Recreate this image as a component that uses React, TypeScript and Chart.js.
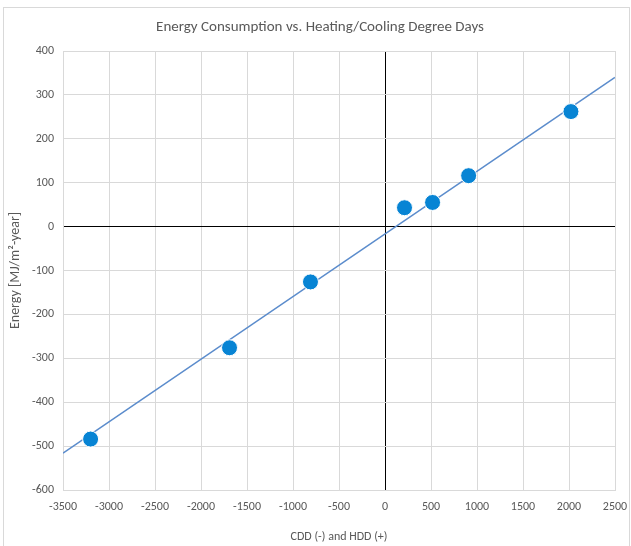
import React, { useEffect, useRef } from "react";
import { Chart, registerables } from "chart.js";

Chart.register(...registerables);

const degreeDays = [-3200, -1690, -810, 212, 517, 909, 2021];
const energy = [-484, -276, -126, 43, 55, 116, 262];
const trendX = [-3500, 2500];
const trendY = [-516, 340];

const FONT = 'Carlito, "Liberation Sans Narrow", "Open Sans", sans-serif';
const TEXT = "#595959";

const frame = {
  id: "frame",
  beforeDraw(chart: any) {
    const c = chart.ctx;
    c.save();
    c.fillStyle = "#fff";
    c.fillRect(0, 0, chart.width, chart.height);
    c.strokeStyle = "#d9d9d9";
    c.lineWidth = 1;
    c.strokeRect(3.5, 7.5, chart.width - 5, chart.height);
    c.restore();
  },
};

export default function App() {
  const ref = useRef<HTMLCanvasElement>(null);
  useEffect(() => {
    if (!ref.current) return;
    const chart = new Chart(ref.current, {
      type: "scatter",
      data: {
        datasets: [
          {
            type: "scatter",
            label: "Data",
            data: degreeDays.map((x, i) => ({ x, y: energy[i] })),
            backgroundColor: "#0784d4",
            borderColor: "#ffffff",
            borderWidth: 1,
            pointRadius: 8,
            pointHoverRadius: 8,
            order: 0,
          },
          {
            type: "line",
            label: "Trend",
            data: trendX.map((x, i) => ({ x, y: trendY[i] })),
            borderColor: "#5b8ccc",
            borderWidth: 1.6,
            pointRadius: 0,
            showLine: true,
            fill: false,
            order: 1,
          } as any,
        ],
      },
      options: {
        animation: false,
        responsive: false,
        layout: { padding: { left: 9, right: 0, top: 0, bottom: 0 } },
        plugins: {
          legend: { display: false },
          tooltip: { enabled: false },
          title: {
            display: true,
            text: "Energy Consumption vs. Heating/Cooling Degree Days",
            color: TEXT,
            font: { family: FONT, size: 15, weight: "normal" },
            padding: { top: 18, bottom: 15 },
          },
        },
        scales: {
          x: {
            type: "linear",
            min: -3500,
            max: 2500,
            ticks: {
              stepSize: 500,
              color: TEXT,
              font: { family: FONT, size: 12 },
              padding: 10,
              maxRotation: 0,
              callback: (v: any) => String(v),
            },
            grid: {
              drawTicks: false,
              color: (ctx: any) => (ctx.tick && ctx.tick.value === 0 ? "#000000" : "#d9d9d9"),
            },
            border: { display: true, color: "#d9d9d9" },
            title: {
              display: true,
              text: "CDD (-) and HDD (+)",
              color: TEXT,
              font: { family: FONT, size: 12 },
              padding: { top: 0, bottom: 2 },
            },
            afterFit: (s: any) => {
              s.height = 56;
              s.paddingLeft = 0;
              s.paddingRight = 16;
            },
          },
          y: {
            type: "linear",
            min: -600,
            max: 400,
            ticks: {
              stepSize: 100,
              color: TEXT,
              font: { family: FONT, size: 12 },
              padding: 9,
              callback: (v: any) => String(v),
            },
            grid: {
              drawTicks: false,
              color: (ctx: any) => (ctx.tick && ctx.tick.value === 0 ? "#000000" : "#d9d9d9"),
            },
            border: { display: true, color: "#d9d9d9" },
            title: {
              display: true,
              text: "Energy [MJ/m²-year]",
              color: TEXT,
              font: { family: FONT, size: 14 },
              padding: { top: -2, bottom: 0 },
            },
            afterFit: (s: any) => {
              s.width = 54;
              s.paddingTop = 0;
              s.paddingBottom = 0;
            },
          },
        },
      },
      plugins: [frame],
    });
    return () => chart.destroy();
  }, []);
  return (
    <div style={{ position: "fixed", left: 0, top: 0, width: 631, height: 546 }}>
      <canvas ref={ref} width={631} height={546} style={{ width: 631, height: 546 }} />
    </div>
  );
}
